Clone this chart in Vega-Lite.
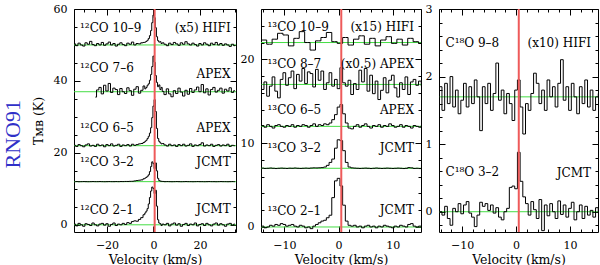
{
"$schema": "https://vega.github.io/schema/vega-lite/v6.json",
"background": "white",
"padding": {"left": 1, "top": 2, "right": 0, "bottom": 0},
"title": {"text": "RNO91", "orient": "left", "anchor": "middle", "color": "#3030c8", "font": "Liberation Serif", "fontSize": 22, "fontWeight": "normal", "offset": 7},
"config": {
  "view": {"stroke": "black", "strokeWidth": 1},
  "font": "DejaVu Serif",
  "axis": {"domain": false, "grid": false, "labelFont": "DejaVu Serif", "labelFontSize": 11, "labelColor": "black", "titleFont": "DejaVu Serif", "titleFontSize": 12.5, "titleFontWeight": "normal", "titleColor": "black", "tickColor": "black", "tickWidth": 1, "labelOverlap": false, "labelFlush": false, "labelBound": false}
},
"datasets": {
  "p1": [
    {"v":-34,"co109":50.3,"co76":null,"co65":22.1,"co32":12.0,"co21":0.2},
    {"v":-33,"co109":49.8,"co76":null,"co65":21.8,"co32":12.02,"co21":-0.3},
    {"v":-32,"co109":50.5,"co76":null,"co65":22.3,"co32":11.98,"co21":0.4},
    {"v":-31,"co109":50.0,"co76":null,"co65":22.0,"co32":12.0,"co21":0.0},
    {"v":-30,"co109":49.7,"co76":null,"co65":21.7,"co32":12.02,"co21":-0.4},
    {"v":-29,"co109":50.6,"co76":null,"co65":22.2,"co32":12.0,"co21":0.3},
    {"v":-28,"co109":50.2,"co76":null,"co65":22.5,"co32":11.98,"co21":0.1},
    {"v":-27,"co109":51.0,"co76":null,"co65":21.9,"co32":12.0,"co21":-0.2},
    {"v":-26,"co109":50.1,"co76":null,"co65":22.1,"co32":12.02,"co21":0.5},
    {"v":-25,"co109":49.8,"co76":35.5,"co65":21.8,"co32":12.0,"co21":0.0},
    {"v":-24,"co109":50.4,"co76":37.5,"co65":22.4,"co32":12.0,"co21":-0.3},
    {"v":-23,"co109":50.0,"co76":38.2,"co65":22.0,"co32":12.02,"co21":0.2},
    {"v":-22,"co109":50.7,"co76":36.4,"co65":22.2,"co32":12.0,"co21":0.4},
    {"v":-21,"co109":49.9,"co76":38.8,"co65":21.7,"co32":11.98,"co21":-0.1},
    {"v":-20,"co109":50.3,"co76":37.2,"co65":22.3,"co32":12.0,"co21":0.3},
    {"v":-19,"co109":50.8,"co76":39.3,"co65":22.0,"co32":12.02,"co21":-0.4},
    {"v":-18,"co109":50.0,"co76":36.8,"co65":22.5,"co32":12.0,"co21":0.1},
    {"v":-17,"co109":50.4,"co76":38.0,"co65":21.9,"co32":12.0,"co21":0.5},
    {"v":-16,"co109":49.7,"co76":37.6,"co65":22.1,"co32":12.02,"co21":-0.2},
    {"v":-15,"co109":50.2,"co76":36.2,"co65":22.4,"co32":12.0,"co21":0.2},
    {"v":-14,"co109":50.6,"co76":37.9,"co65":21.8,"co32":12.03,"co21":0.0},
    {"v":-13,"co109":50.1,"co76":37.0,"co65":22.2,"co32":12.02,"co21":0.4},
    {"v":-12,"co109":49.8,"co76":36.5,"co65":22.0,"co32":12.05,"co21":0.1},
    {"v":-11,"co109":50.5,"co76":38.1,"co65":22.3,"co32":12.05,"co21":0.6},
    {"v":-10,"co109":50.2,"co76":37.3,"co65":21.9,"co32":12.08,"co21":0.4},
    {"v":-9,"co109":50.8,"co76":36.0,"co65":22.4,"co32":12.1,"co21":0.9},
    {"v":-8,"co109":50.0,"co76":37.7,"co65":22.1,"co32":12.2,"co21":1.1},
    {"v":-7,"co109":50.4,"co76":38.4,"co65":22.3,"co32":12.3,"co21":1.0},
    {"v":-6,"co109":50.3,"co76":36.6,"co65":22.5,"co32":12.4,"co21":1.5},
    {"v":-5,"co109":50.6,"co76":37.4,"co65":22.6,"co32":12.5,"co21":2.0},
    {"v":-4,"co109":50.7,"co76":38.6,"co65":22.9,"co32":12.8,"co21":2.8},
    {"v":-3.5,"co109":50.8,"co76":37.8,"co65":23.2,"co32":13.0,"co21":3.3},
    {"v":-3,"co109":51.0,"co76":38.2,"co65":23.5,"co32":13.2,"co21":3.8},
    {"v":-2.5,"co109":51.3,"co76":38.8,"co65":24.0,"co32":13.5,"co21":4.5},
    {"v":-2,"co109":51.8,"co76":39.2,"co65":24.6,"co32":13.9,"co21":5.8},
    {"v":-1.5,"co109":52.6,"co76":40.2,"co65":25.5,"co32":14.8,"co21":7.6},
    {"v":-1,"co109":54.0,"co76":41.8,"co65":27.0,"co32":16.2,"co21":9.4},
    {"v":-0.5,"co109":56.2,"co76":44.0,"co65":29.8,"co32":17.5,"co21":10.5},
    {"v":0,"co109":58.3,"co76":46.9,"co65":33.0,"co32":17.0,"co21":10.1},
    {"v":0.5,"co109":57.6,"co76":45.2,"co65":34.8,"co32":15.6,"co21":8.7},
    {"v":1,"co109":54.8,"co76":41.5,"co65":31.5,"co32":17.2,"co21":9.6},
    {"v":1.5,"co109":52.3,"co76":39.6,"co65":26.8,"co32":15.0,"co21":5.2},
    {"v":2,"co109":51.2,"co76":38.4,"co65":24.0,"co32":12.9,"co21":1.4},
    {"v":2.5,"co109":50.8,"co76":38.9,"co65":23.2,"co32":12.3,"co21":0.5},
    {"v":3,"co109":50.9,"co76":37.6,"co65":22.8,"co32":12.15,"co21":0.3},
    {"v":3.5,"co109":50.4,"co76":38.2,"co65":22.5,"co32":12.1,"co21":-0.2},
    {"v":4,"co109":50.6,"co76":37.1,"co65":22.6,"co32":12.05,"co21":0.2},
    {"v":5,"co109":50.2,"co76":36.2,"co65":22.2,"co32":12.0,"co21":0.0},
    {"v":6,"co109":49.8,"co76":37.8,"co65":21.9,"co32":12.02,"co21":0.4},
    {"v":7,"co109":50.5,"co76":36.4,"co65":22.4,"co32":12.0,"co21":-0.3},
    {"v":8,"co109":50.1,"co76":35.6,"co65":22.0,"co32":11.98,"co21":0.2},
    {"v":9,"co109":50.7,"co76":37.3,"co65":22.2,"co32":12.0,"co21":0.5},
    {"v":10,"co109":50.3,"co76":36.5,"co65":21.8,"co32":12.02,"co21":-0.1},
    {"v":11,"co109":49.9,"co76":38.0,"co65":22.3,"co32":12.0,"co21":0.3},
    {"v":12,"co109":50.6,"co76":36.9,"co65":22.0,"co32":11.98,"co21":-0.4},
    {"v":13,"co109":50.2,"co76":35.8,"co65":22.4,"co32":12.0,"co21":0.1},
    {"v":14,"co109":50.9,"co76":37.4,"co65":21.9,"co32":12.02,"co21":0.4},
    {"v":15,"co109":50.3,"co76":36.3,"co65":22.1,"co32":12.0,"co21":-0.2},
    {"v":16,"co109":50.0,"co76":37.9,"co65":22.5,"co32":12.0,"co21":0.2},
    {"v":17,"co109":50.5,"co76":36.8,"co65":21.8,"co32":11.98,"co21":0.0},
    {"v":18,"co109":50.1,"co76":37.5,"co65":22.2,"co32":12.0,"co21":0.5},
    {"v":19,"co109":49.7,"co76":38.3,"co65":22.0,"co32":12.02,"co21":-0.3},
    {"v":20,"co109":50.4,"co76":37.0,"co65":22.3,"co32":12.0,"co21":0.1},
    {"v":21,"co109":50.0,"co76":39.0,"co65":22.8,"co32":12.0,"co21":0.3},
    {"v":22,"co109":50.6,"co76":36.7,"co65":21.9,"co32":11.98,"co21":-0.2},
    {"v":23,"co109":50.2,"co76":37.8,"co65":22.2,"co32":12.0,"co21":0.4},
    {"v":24,"co109":49.8,"co76":36.1,"co65":22.0,"co32":12.02,"co21":0.0},
    {"v":25,"co109":50.5,"co76":37.6,"co65":22.4,"co32":12.0,"co21":-0.3},
    {"v":26,"co109":50.1,"co76":38.2,"co65":21.8,"co32":12.0,"co21":0.2},
    {"v":27,"co109":50.7,"co76":36.9,"co65":22.1,"co32":11.98,"co21":0.5},
    {"v":28,"co109":50.0,"co76":37.4,"co65":22.3,"co32":12.0,"co21":-0.1},
    {"v":29,"co109":50.4,"co76":38.0,"co65":21.9,"co32":12.02,"co21":0.3},
    {"v":30,"co109":49.9,"co76":36.6,"co65":22.2,"co32":12.0,"co21":0.0},
    {"v":31,"co109":50.3,"co76":37.7,"co65":22.0,"co32":12.0,"co21":-0.4},
    {"v":32,"co109":50.0,"co76":37.2,"co65":22.4,"co32":11.98,"co21":0.2},
    {"v":33,"co109":49.6,"co76":38.1,"co65":21.8,"co32":12.0,"co21":0.4},
    {"v":34,"co109":50.2,"co76":36.8,"co65":22.1,"co32":12.02,"co21":-0.1},
    {"v":35,"co109":49.8,"co76":37.3,"co65":22.0,"co32":12.0,"co21":0.2}
  ],
  "p23": [
    {"v":-14.5,"t109":22.3,"t87":17.0,"t65":12.0,"t32":7.0,"t21":0.0,"c98":1.6,"c32":0.05},
    {"v":-14,"t109":22.3,"t87":16.4,"t65":12.1,"t32":7.02,"t21":0.1,"c98":1.85,"c32":0.0},
    {"v":-13.5,"t109":22.3,"t87":17.3,"t65":11.9,"t32":6.98,"t21":-0.1,"c98":1.5,"c32":-0.05},
    {"v":-13,"t109":21.8,"t87":15.6,"t65":12.2,"t32":7.0,"t21":0.0,"c98":1.9,"c32":0.08},
    {"v":-12.5,"t109":21.8,"t87":16.8,"t65":12.0,"t32":7.03,"t21":0.2,"c98":1.6,"c32":-0.1},
    {"v":-12,"t109":22.4,"t87":17.9,"t65":11.8,"t32":7.0,"t21":0.1,"c98":2.0,"c32":-0.2},
    {"v":-11.5,"t109":22.4,"t87":16.2,"t65":12.1,"t32":6.97,"t21":0.3,"c98":1.55,"c32":0.05},
    {"v":-11,"t109":23.1,"t87":15.4,"t65":12.2,"t32":7.0,"t21":0.2,"c98":1.8,"c32":0.0},
    {"v":-10.5,"t109":23.1,"t87":17.6,"t65":12.0,"t32":7.02,"t21":0.4,"c98":1.45,"c32":0.12},
    {"v":-10,"t109":22.9,"t87":18.4,"t65":11.9,"t32":7.0,"t21":0.3,"c98":1.65,"c32":-0.03},
    {"v":-9.5,"t109":22.9,"t87":16.9,"t65":12.1,"t32":6.98,"t21":0.1,"c98":1.9,"c32":0.1},
    {"v":-9,"t109":21.6,"t87":17.8,"t65":12.0,"t32":7.01,"t21":0.2,"c98":1.55,"c32":0.15},
    {"v":-8.5,"t109":21.6,"t87":18.6,"t65":12.2,"t32":7.0,"t21":0.3,"c98":1.85,"c32":-0.02},
    {"v":-8,"t109":22.5,"t87":16.5,"t65":11.9,"t32":7.03,"t21":0.1,"c98":1.6,"c32":-0.08},
    {"v":-7.5,"t109":22.5,"t87":18.2,"t65":12.1,"t32":7.0,"t21":0.0,"c98":1.95,"c32":-0.22},
    {"v":-7,"t109":23.3,"t87":17.4,"t65":12.0,"t32":6.98,"t21":0.2,"c98":1.7,"c32":-0.05},
    {"v":-6.5,"t109":23.3,"t87":18.9,"t65":12.2,"t32":7.0,"t21":0.1,"c98":1.2,"c32":0.14},
    {"v":-6,"t109":22.0,"t87":17.1,"t65":12.1,"t32":7.02,"t21":-0.1,"c98":1.85,"c32":0.08},
    {"v":-5.5,"t109":22.0,"t87":18.5,"t65":11.9,"t32":7.0,"t21":0.0,"c98":1.6,"c32":0.12},
    {"v":-5,"t109":21.1,"t87":18.3,"t65":12.1,"t32":7.03,"t21":-0.2,"c98":1.9,"c32":0.02},
    {"v":-4.5,"t109":21.1,"t87":16.7,"t65":12.3,"t32":7.05,"t21":0.1,"c98":1.5,"c32":0.1},
    {"v":-4,"t109":22.2,"t87":18.8,"t65":12.0,"t32":7.04,"t21":0.3,"c98":1.75,"c32":-0.02},
    {"v":-3.5,"t109":22.2,"t87":17.5,"t65":12.2,"t32":7.06,"t21":0.5,"c98":2.2,"c32":0.06},
    {"v":-3,"t109":22.6,"t87":18.6,"t65":12.1,"t32":7.08,"t21":0.7,"c98":1.65,"c32":-0.08},
    {"v":-2.5,"t109":22.6,"t87":16.4,"t65":12.3,"t32":7.15,"t21":0.8,"c98":1.8,"c32":-0.12},
    {"v":-2,"t109":23.2,"t87":17.2,"t65":12.2,"t32":7.35,"t21":1.1,"c98":1.45,"c32":0.0},
    {"v":-1.5,"t109":23.2,"t87":18.4,"t65":12.4,"t32":7.7,"t21":1.4,"c98":1.75,"c32":0.05},
    {"v":-1,"t109":22.1,"t87":16.8,"t65":12.8,"t32":8.1,"t21":3.5,"c98":1.6,"c32":0.36},
    {"v":-0.5,"t109":22.1,"t87":17.6,"t65":13.4,"t32":9.4,"t21":5.5,"c98":1.35,"c32":0.38},
    {"v":0,"t109":21.9,"t87":16.5,"t65":14.3,"t32":10.4,"t21":5.8,"c98":1.8,"c32":0.34},
    {"v":0.5,"t109":21.9,"t87":19.0,"t65":14.6,"t32":10.3,"t21":4.9,"c98":1.95,"c32":0.88},
    {"v":1,"t109":22.6,"t87":17.2,"t65":13.5,"t32":9.1,"t21":2.6,"c98":1.55,"c32":0.45},
    {"v":1.5,"t109":22.6,"t87":16.8,"t65":12.4,"t32":7.7,"t21":0.7,"c98":1.15,"c32":0.22},
    {"v":2,"t109":21.7,"t87":17.5,"t65":11.8,"t32":7.15,"t21":0.2,"c98":1.6,"c32":0.12},
    {"v":2.5,"t109":21.7,"t87":15.8,"t65":11.7,"t32":7.05,"t21":0.1,"c98":1.5,"c32":-0.05},
    {"v":3,"t109":22.4,"t87":17.1,"t65":12.0,"t32":7.02,"t21":0.2,"c98":1.75,"c32":0.15},
    {"v":3.5,"t109":22.4,"t87":16.4,"t65":12.2,"t32":7.0,"t21":0.0,"c98":2.05,"c32":0.03},
    {"v":4,"t109":22.8,"t87":18.7,"t65":11.9,"t32":6.98,"t21":0.1,"c98":1.9,"c32":-0.1},
    {"v":4.5,"t109":22.8,"t87":17.3,"t65":12.1,"t32":7.0,"t21":-0.1,"c98":1.6,"c32":0.18},
    {"v":5,"t109":21.8,"t87":18.9,"t65":12.3,"t32":7.02,"t21":0.1,"c98":1.8,"c32":-0.28},
    {"v":5.5,"t109":21.8,"t87":16.2,"t65":12.0,"t32":7.0,"t21":0.2,"c98":1.5,"c32":0.1},
    {"v":6,"t109":22.5,"t87":18.1,"t65":11.8,"t32":6.97,"t21":0.0,"c98":1.95,"c32":-0.06},
    {"v":6.5,"t109":22.5,"t87":15.9,"t65":12.1,"t32":7.0,"t21":0.1,"c98":1.7,"c32":0.12},
    {"v":7,"t109":21.6,"t87":17.4,"t65":12.0,"t32":7.03,"t21":-0.1,"c98":1.85,"c32":0.0},
    {"v":7.5,"t109":21.6,"t87":15.2,"t65":12.2,"t32":7.0,"t21":0.1,"c98":1.55,"c32":-0.1},
    {"v":8,"t109":22.3,"t87":16.3,"t65":11.9,"t32":6.98,"t21":0.0,"c98":1.9,"c32":0.16},
    {"v":8.5,"t109":22.3,"t87":17.8,"t65":12.1,"t32":7.0,"t21":0.2,"c98":2.25,"c32":-0.04},
    {"v":9,"t109":22.7,"t87":16.0,"t65":12.0,"t32":7.02,"t21":0.1,"c98":1.65,"c32":0.1},
    {"v":9.5,"t109":22.7,"t87":17.5,"t65":12.3,"t32":7.0,"t21":0.0,"c98":1.85,"c32":-0.08},
    {"v":10,"t109":21.9,"t87":18.1,"t65":12.1,"t32":6.98,"t21":-0.1,"c98":1.5,"c32":0.05},
    {"v":10.5,"t109":21.9,"t87":16.6,"t65":11.9,"t32":7.0,"t21":0.1,"c98":1.9,"c32":0.14},
    {"v":11,"t109":22.4,"t87":15.5,"t65":12.0,"t32":7.02,"t21":0.0,"c98":1.7,"c32":-0.12},
    {"v":11.5,"t109":22.4,"t87":17.2,"t65":12.2,"t32":7.0,"t21":0.2,"c98":1.45,"c32":0.0},
    {"v":12,"t109":21.7,"t87":16.4,"t65":11.9,"t32":6.97,"t21":0.1,"c98":1.85,"c32":0.1},
    {"v":12.5,"t109":21.7,"t87":17.9,"t65":12.1,"t32":7.0,"t21":0.0,"c98":1.6,"c32":-0.1},
    {"v":13,"t109":22.5,"t87":15.8,"t65":12.0,"t32":7.08,"t21":0.3,"c98":1.95,"c32":0.08},
    {"v":13.5,"t109":22.5,"t87":17.3,"t65":11.8,"t32":7.05,"t21":0.4,"c98":1.55,"c32":-0.05},
    {"v":14,"t109":22.1,"t87":17.6,"t65":12.1,"t32":6.98,"t21":0.1,"c98":1.8,"c32":0.02},
    {"v":14.5,"t109":22.1,"t87":16.9,"t65":12.0,"t32":7.0,"t21":0.0,"c98":1.5,"c32":-0.08},
    {"v":15,"t109":21.9,"t87":17.4,"t65":11.9,"t32":6.97,"t21":0.1,"c98":1.7,"c32":0.06},
    {"v":15.5,"t109":21.9,"t87":16.8,"t65":12.1,"t32":7.0,"t21":0.0,"c98":1.75,"c32":-0.02}
  ],
  "base1": [{"base":50},{"base":37},{"base":22},{"base":12},{"base":0}],
  "base2": [{"base":22},{"base":17},{"base":12},{"base":7},{"base":0}],
  "base3": [{"base":1.7},{"base":0}],
  "vlsr": [{"vlsr":0.5}],
  "lab1": [
    {"txt":"¹²CO 10–9","side":"L","ly":54.7},{"txt":"(x5) HIFI","side":"R","ly":54.7},
    {"txt":"¹²CO 7–6","side":"L","ly":43.6},{"txt":"APEX","side":"R","ly":41.9},
    {"txt":"¹²CO 6–5","side":"L","ly":27},{"txt":"APEX","side":"R","ly":27},
    {"txt":"¹²CO 3–2","side":"L","ly":17.6},{"txt":"JCMT","side":"R","ly":17.6},
    {"txt":"¹²CO 2–1","side":"L","ly":4.2},{"txt":"JCMT","side":"R","ly":4.4}
  ],
  "lab2": [
    {"txt":"¹³CO 10–9","side":"L","ly":23.8},{"txt":"(x15) HIFI","side":"R","ly":23.8},
    {"txt":"¹³CO 8–7","side":"L","ly":19.4},{"txt":"(x0.5) APEX","side":"R","ly":19.4},
    {"txt":"¹³CO 6–5","side":"L","ly":13.9},{"txt":"APEX","side":"R","ly":13.9},
    {"txt":"¹³CO 3–2","side":"L","ly":9.4},{"txt":"JCMT","side":"R","ly":9.4},
    {"txt":"¹³CO 2–1","side":"L","ly":1.85},{"txt":"JCMT","side":"R","ly":2.0}
  ],
  "lab3": [
    {"txt":"C¹⁸O 9–8","side":"L","ly":2.5},{"txt":"(x10) HIFI","side":"R","ly":2.5},
    {"txt":"C¹⁸O 3–2","side":"L","ly":0.59},{"txt":"JCMT","side":"R","ly":0.58}
  ]
},
"spacing": 2,
"hconcat": [
  {
    "width": 162, "height": 223,
    "resolve": {"axis": {"x": "independent", "y": "independent"}},
    "layer": [
      {"data": {"name": "base1"}, "mark": {"type": "rule", "color": "#44dd44", "strokeWidth": 1},
       "encoding": {"y": {"field": "base", "type": "quantitative", "scale": {"domain": [-2, 60], "nice": false},
         "axis": {"orient": "left", "title": "Tᴍʙ (K)", "titleFont": "DejaVu Serif", "values": [0,5,10,15,20,25,30,35,40,45,50,55,60], "labelExpr": "datum.value % 20 === 0 ? datum.label : ''", "tickSize": {"condition": {"test": "datum.value % 20 === 0", "value": -6}, "value": -3}, "labelPadding": 13, "titlePadding": 8}}}},
      {"data": {"name": "p1"}, "transform": [{"fold": ["co109","co76","co65","co32","co21"], "as": ["line","t"]}],
       "mark": {"type": "line", "interpolate": "step", "color": "black", "strokeWidth": 1, "clip": true},
       "encoding": {
         "x": {"field": "v", "type": "quantitative", "scale": {"domain": [-34.2, 35.5], "nice": false},
           "axis": {"orient": "bottom", "title": "Velocity (km/s)", "titleFont": "DejaVu Serif", "values": [-30,-25,-20,-15,-10,-5,0,5,10,15,20,25,30,35], "labelExpr": "datum.value % 20 === 0 ? datum.label : ''", "tickSize": {"condition": {"test": "datum.value % 20 === 0", "value": -6}, "value": -3}, "labelPadding": 13, "titlePadding": 0}},
         "y": {"field": "t", "type": "quantitative",
           "axis": {"orient": "right", "title": null, "labels": false, "values": [0,5,10,15,20,25,30,35,40,45,50,55,60], "tickSize": {"condition": {"test": "datum.value % 20 === 0", "value": -6}, "value": -3}}},
         "detail": {"field": "line"}}},
      {"data": {"name": "vlsr"}, "mark": {"type": "rule", "color": "#ee5a5a", "strokeWidth": 2},
       "encoding": {"x": {"field": "vlsr", "type": "quantitative",
         "axis": {"orient": "top", "title": null, "labels": false, "values": [-30,-25,-20,-15,-10,-5,0,5,10,15,20,25,30,35], "tickSize": {"condition": {"test": "datum.value % 20 === 0", "value": -6}, "value": -3}}}}},
      {"data": {"name": "lab1"}, "transform": [{"filter": "datum.side === 'L'"}],
       "mark": {"type": "text", "align": "left", "baseline": "middle", "font": "DejaVu Serif", "fontSize": 12, "color": "black"},
       "encoding": {"x": {"datum": -31.6, "type": "quantitative", "axis": null}, "y": {"field": "ly", "type": "quantitative", "axis": null}, "text": {"field": "txt"}}},
      {"data": {"name": "lab1"}, "transform": [{"filter": "datum.side === 'R'"}],
       "mark": {"type": "text", "align": "right", "baseline": "middle", "font": "DejaVu Serif", "fontSize": 12, "color": "black"},
       "encoding": {"x": {"datum": 33.2, "type": "quantitative", "axis": null}, "y": {"field": "ly", "type": "quantitative", "axis": null}, "text": {"field": "txt"}}}
    ]
  },
  {
    "width": 160, "height": 223,
    "resolve": {"axis": {"x": "independent", "y": "independent"}},
    "layer": [
      {"data": {"name": "base2"}, "mark": {"type": "rule", "color": "#44dd44", "strokeWidth": 1},
       "encoding": {"y": {"field": "base", "type": "quantitative", "scale": {"domain": [-0.6, 26], "nice": false},
         "axis": {"orient": "left", "title": null, "values": [0,2,4,6,8,10,12,14,16,18,20,22,24,26], "labelExpr": "datum.value % 10 === 0 ? datum.label : ''", "tickSize": {"condition": {"test": "datum.value % 10 === 0", "value": -6}, "value": -3}, "labelPadding": 13}}}},
      {"data": {"name": "p23"}, "transform": [{"fold": ["t109","t87","t65","t32","t21"], "as": ["line","t"]}],
       "mark": {"type": "line", "interpolate": "step", "color": "black", "strokeWidth": 1, "clip": true},
       "encoding": {
         "x": {"field": "v", "type": "quantitative", "scale": {"domain": [-14.3, 15.2], "nice": false},
           "axis": {"orient": "bottom", "title": "Velocity (km/s)", "titleFont": "DejaVu Serif", "values": [-14,-12,-10,-8,-6,-4,-2,0,2,4,6,8,10,12,14], "labelExpr": "datum.value % 10 === 0 ? datum.label : ''", "tickSize": {"condition": {"test": "datum.value % 10 === 0", "value": -6}, "value": -3}, "labelPadding": 13, "titlePadding": 0}},
         "y": {"field": "t", "type": "quantitative",
           "axis": {"orient": "right", "title": null, "labels": false, "values": [0,2,4,6,8,10,12,14,16,18,20,22,24,26], "tickSize": {"condition": {"test": "datum.value % 10 === 0", "value": -6}, "value": -3}}},
         "detail": {"field": "line"}}},
      {"data": {"name": "vlsr"}, "mark": {"type": "rule", "color": "#ee5a5a", "strokeWidth": 2},
       "encoding": {"x": {"field": "vlsr", "type": "quantitative",
         "axis": {"orient": "top", "title": null, "labels": false, "values": [-14,-12,-10,-8,-6,-4,-2,0,2,4,6,8,10,12,14], "tickSize": {"condition": {"test": "datum.value % 10 === 0", "value": -6}, "value": -3}}}}},
      {"data": {"name": "lab2"}, "transform": [{"filter": "datum.side === 'L'"}],
       "mark": {"type": "text", "align": "left", "baseline": "middle", "font": "DejaVu Serif", "fontSize": 12, "color": "black"},
       "encoding": {"x": {"datum": -13.1, "type": "quantitative", "axis": null}, "y": {"field": "ly", "type": "quantitative", "axis": null}, "text": {"field": "txt"}}},
      {"data": {"name": "lab2"}, "transform": [{"filter": "datum.side === 'R'"}],
       "mark": {"type": "text", "align": "right", "baseline": "middle", "font": "DejaVu Serif", "fontSize": 12, "color": "black"},
       "encoding": {"x": {"datum": 13.9, "type": "quantitative", "axis": null}, "y": {"field": "ly", "type": "quantitative", "axis": null}, "text": {"field": "txt"}}}
    ]
  },
  {
    "width": 159, "height": 223,
    "resolve": {"axis": {"x": "independent", "y": "independent"}},
    "layer": [
      {"data": {"name": "base3"}, "mark": {"type": "rule", "color": "#44dd44", "strokeWidth": 1},
       "encoding": {"y": {"field": "base", "type": "quantitative", "scale": {"domain": [-0.3, 3], "nice": false},
         "axis": {"orient": "left", "title": null, "values": [-0.2,0,0.2,0.4,0.6,0.8,1,1.2,1.4,1.6,1.8,2,2.2,2.4,2.6,2.8,3], "labelExpr": "abs(datum.value - round(datum.value)) < 0.01 ? format(datum.value, 'd') : ''", "tickSize": {"condition": {"test": "abs(datum.value - round(datum.value)) < 0.01", "value": -6}, "value": -3}, "labelPadding": 13}}}},
      {"data": {"name": "p23"}, "transform": [{"fold": ["c98","c32"], "as": ["line","t"]}],
       "mark": {"type": "line", "interpolate": "step", "color": "black", "strokeWidth": 1, "clip": true},
       "encoding": {
         "x": {"field": "v", "type": "quantitative", "scale": {"domain": [-14.3, 15.2], "nice": false},
           "axis": {"orient": "bottom", "title": "Velocity (km/s)", "titleFont": "DejaVu Serif", "values": [-14,-12,-10,-8,-6,-4,-2,0,2,4,6,8,10,12,14], "labelExpr": "datum.value % 10 === 0 ? datum.label : ''", "tickSize": {"condition": {"test": "datum.value % 10 === 0", "value": -6}, "value": -3}, "labelPadding": 13, "titlePadding": 0}},
         "y": {"field": "t", "type": "quantitative",
           "axis": {"orient": "right", "title": null, "labels": false, "values": [-0.2,0,0.2,0.4,0.6,0.8,1,1.2,1.4,1.6,1.8,2,2.2,2.4,2.6,2.8,3], "tickSize": {"condition": {"test": "abs(datum.value - round(datum.value)) < 0.01", "value": -6}, "value": -3}}},
         "detail": {"field": "line"}}},
      {"data": {"name": "vlsr"}, "mark": {"type": "rule", "color": "#ee5a5a", "strokeWidth": 2},
       "encoding": {"x": {"field": "vlsr", "type": "quantitative",
         "axis": {"orient": "top", "title": null, "labels": false, "values": [-14,-12,-10,-8,-6,-4,-2,0,2,4,6,8,10,12,14], "tickSize": {"condition": {"test": "datum.value % 10 === 0", "value": -6}, "value": -3}}}}},
      {"data": {"name": "lab3"}, "transform": [{"filter": "datum.side === 'L'"}],
       "mark": {"type": "text", "align": "left", "baseline": "middle", "font": "DejaVu Serif", "fontSize": 12, "color": "black"},
       "encoding": {"x": {"datum": -13.1, "type": "quantitative", "axis": null}, "y": {"field": "ly", "type": "quantitative", "axis": null}, "text": {"field": "txt"}}},
      {"data": {"name": "lab3"}, "transform": [{"filter": "datum.side === 'R'"}],
       "mark": {"type": "text", "align": "right", "baseline": "middle", "font": "DejaVu Serif", "fontSize": 12, "color": "black"},
       "encoding": {"x": {"datum": 13.9, "type": "quantitative", "axis": null}, "y": {"field": "ly", "type": "quantitative", "axis": null}, "text": {"field": "txt"}}}
    ]
  }
]
}
